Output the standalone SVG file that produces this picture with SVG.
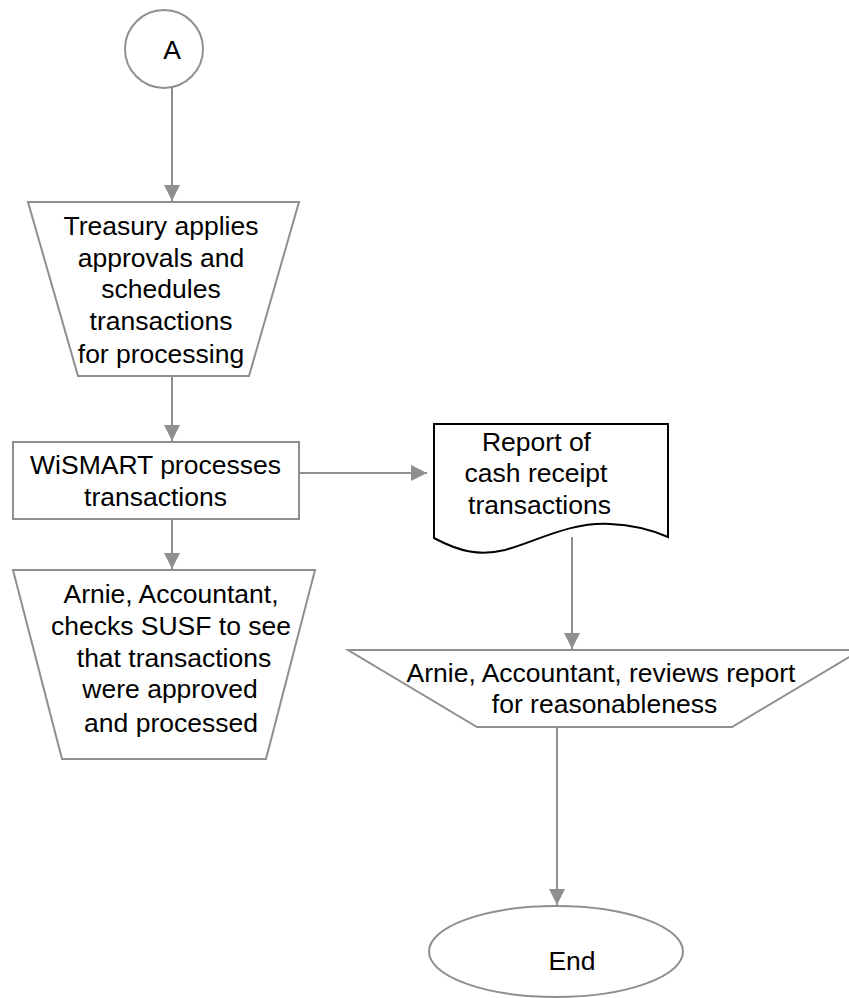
<svg xmlns="http://www.w3.org/2000/svg" width="849" height="998" viewBox="0 0 849 998">
<style>
.s{fill:#fff;stroke:#8f8f8f;stroke-width:2}
.d{fill:#fff;stroke:#000;stroke-width:2}
.c{fill:none;stroke:#8f8f8f;stroke-width:2}
text{font-family:"Liberation Sans",Arial,sans-serif;font-size:26.5px;fill:#000;text-anchor:middle}
</style>
<defs>
<marker id="ah" markerUnits="userSpaceOnUse" markerWidth="16" markerHeight="16" viewBox="0 0 10 10" refX="10" refY="5" orient="auto">
<path d="M0,0 L10,5 L0,10 z" fill="#8f8f8f"/>
</marker>
</defs>
<rect width="849" height="998" fill="#fff"/>
<g id="connectors">
<line class="c" x1="172" y1="88" x2="172" y2="201" marker-end="url(#ah)"/>
<line class="c" x1="172" y1="376" x2="172" y2="441" marker-end="url(#ah)"/>
<line class="c" x1="172" y1="519" x2="172" y2="569" marker-end="url(#ah)"/>
<line class="c" x1="299" y1="473" x2="427" y2="473" marker-end="url(#ah)"/>
<line class="c" x1="572" y1="537" x2="572" y2="649" marker-end="url(#ah)"/>
<line class="c" x1="557" y1="727" x2="557" y2="905" marker-end="url(#ah)"/>
</g>
<g id="nodeA">
<circle class="s" cx="164" cy="49" r="39"/>
<text x="172" y="59">A</text>
</g>
<g id="treasury">
<polygon class="s" points="28,202 299,202 249,376 78,376"/>
<text x="161" y="235">Treasury applies</text>
<text x="161" y="267">approvals and</text>
<text x="161" y="298">schedules</text>
<text x="161" y="330">transactions</text>
<text x="161" y="363">for processing</text>
</g>
<g id="wismart">
<rect class="s" x="13" y="442" width="286" height="77"/>
<text x="155.5" y="474">WiSMART processes</text>
<text x="155.5" y="506">transactions</text>
</g>
<g id="arnieChecks">
<polygon class="s" points="13,570 315,570 266,759 62,759"/>
<text x="171" y="603">Arnie, Accountant,</text>
<text x="171" y="635">checks SUSF to see</text>
<text x="174" y="667">that transactions</text>
<text x="170" y="698">were approved</text>
<text x="171" y="732">and processed</text>
</g>
<g id="report">
<path class="d" d="M434,538 V424 H668 V537 C652,530 635,525 610,524 C570,522 540,540 505,550 C480,556 460,552 434,538 Z"/>
<text x="536.5" y="451">Report of</text>
<text x="536" y="482">cash receipt</text>
<text x="539.5" y="514">transactions</text>
</g>
<g id="arnieReviews">
<polygon class="s" points="348,650 861,650 732,727 477,727"/>
<text x="601" y="682">Arnie, Accountant, reviews report</text>
<text x="604.5" y="713">for reasonableness</text>
</g>
<g id="end">
<ellipse class="s" cx="556" cy="951.5" rx="127" ry="45.5"/>
<text x="572" y="970">End</text>
</g>
</svg>
